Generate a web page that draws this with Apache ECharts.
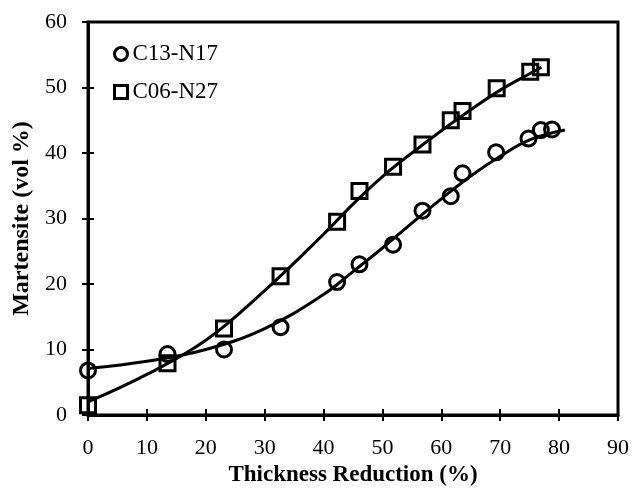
<!DOCTYPE html>
<html>
<head>
<meta charset="utf-8">
<script src="https://cdn.jsdelivr.net/npm/echarts@6/dist/echarts.min.js"></script>
<style>
html,body{margin:0;padding:0;background:#fff;}
#chart{width:633px;height:488px;}
</style>
</head>
<body>
<div id="chart"></div>
<script>
// Measured points
const c13X = [0, 13.5, 23.1, 32.7, 42.3, 46.1, 51.8, 56.8, 61.6, 63.6, 69.3, 74.8, 76.9, 78.8];
const c13Y = [6.8, 9.3, 10.0, 13.4, 20.3, 23.0, 26.0, 31.2, 33.4, 36.9, 40.1, 42.2, 43.5, 43.6];
const c06X = [0, 13.5, 23.1, 32.7, 42.3, 46.1, 51.8, 56.8, 61.6, 63.6, 69.4, 75.1, 76.9];
const c06Y = [1.5, 7.9, 13.2, 21.2, 29.5, 34.2, 37.9, 41.3, 45.0, 46.4, 49.9, 52.4, 53.1];
// Trend curves
const c13FitX = [0, 10, 20, 30, 40, 45, 50, 55, 60, 65, 70, 75, 81];
const c13FitY = [7.1, 8.2, 10.0, 13.2, 18.4, 21.9, 25.5, 29.3, 33.0, 36.5, 39.5, 42.0, 43.5];
const c06FitX = [0, 10, 20, 30, 40, 45, 50, 55, 60, 65, 70, 75, 77];
const c06FitY = [2.0, 6.2, 11.4, 19.0, 27.6, 32.2, 36.4, 40.0, 43.4, 46.6, 49.6, 52.1, 53.1];
const xTicks = [0, 10, 20, 30, 40, 50, 60, 70, 80, 90];
const yTicks = [0, 10, 20, 30, 40, 50, 60];
const seriesNames = ['C13-N17', 'C06-N27'];

const zip = (a, b) => a.map((v, i) => [v, b[i]]);
const font = 'Liberation Serif, Times New Roman, serif';

const chart = echarts.init(document.getElementById('chart'), null, {renderer: 'canvas'});
const xBase = {
  type: 'value', min: xTicks[0], max: xTicks[xTicks.length - 1], interval: 10,
  splitLine: {show: false}
};
const yBase = {
  type: 'value', min: yTicks[0], max: yTicks[yTicks.length - 1], interval: 10,
  splitLine: {show: false}
};
chart.setOption({
  animation: false,
  backgroundColor: '#fff',
  grid: {left: 88, right: 15, top: 22, bottom: 73, show: true, borderColor: '#000', borderWidth: 3,
         containLabel: false, outerBoundsMode: 'none'},
  legend: {
    orient: 'vertical', left: 113, top: 42, itemGap: 14, padding: 0,
    itemWidth: 13, itemHeight: 13,
    data: [
      {name: seriesNames[0], icon: 'circle'},
      {name: seriesNames[1], icon: 'rect'}
    ],
    itemStyle: {color: '#fff', borderColor: '#000', borderWidth: 3},
    textStyle: {fontFamily: font, fontSize: 23, lineHeight: 24, color: '#000'}
  },
  xAxis: [
    Object.assign({}, xBase, {
      name: 'Thickness Reduction (%)', nameLocation: 'middle', nameGap: 46,
      nameTextStyle: {fontFamily: font, fontSize: 23, fontWeight: 'bold', color: '#000'},
      axisLine: {lineStyle: {color: '#000', width: 3}},
      axisTick: {inside: false, length: 6, lineStyle: {color: '#000', width: 2}},
      axisLabel: {fontFamily: font, fontSize: 22, color: '#000', margin: 22}
    }),
    Object.assign({}, xBase, {
      position: 'bottom', axisLine: {show: false},
      axisTick: {inside: true, length: 6, lineStyle: {color: '#000', width: 2}},
      axisLabel: {show: false}
    })
  ],
  yAxis: [
    Object.assign({}, yBase, {
      name: 'Martensite (vol %)', nameLocation: 'middle', nameGap: 54,
      nameTextStyle: {fontFamily: font, fontSize: 24, fontWeight: 'bold', color: '#000'},
      axisLine: {lineStyle: {color: '#000', width: 3}},
      axisTick: {inside: false, length: 6, lineStyle: {color: '#000', width: 2}},
      axisLabel: {fontFamily: font, fontSize: 22, color: '#000', margin: 21}
    }),
    Object.assign({}, yBase, {
      position: 'left', axisLine: {show: false},
      axisTick: {inside: true, length: 6, lineStyle: {color: '#000', width: 2}},
      axisLabel: {show: false}
    })
  ],
  series: [
    {
      name: seriesNames[0] + ' fit', type: 'line', smooth: 0.4, symbol: 'none',
      data: zip(c13FitX, c13FitY), lineStyle: {color: '#000', width: 3}, z: 2
    },
    {
      name: seriesNames[1] + ' fit', type: 'line', smooth: 0.4, symbol: 'none',
      data: zip(c06FitX, c06FitY), lineStyle: {color: '#000', width: 3}, z: 2
    },
    {
      name: seriesNames[0], type: 'scatter', symbol: 'circle', symbolSize: 15,
      data: zip(c13X, c13Y),
      itemStyle: {color: 'rgba(255,255,255,0)', borderColor: '#000', borderWidth: 3, opacity: 1}, z: 3
    },
    {
      name: seriesNames[1], type: 'scatter', symbol: 'rect', symbolSize: 15,
      data: zip(c06X, c06Y),
      itemStyle: {color: 'rgba(255,255,255,0)', borderColor: '#000', borderWidth: 3, opacity: 1}, z: 3
    }
  ]
});
</script>
</body>
</html>
